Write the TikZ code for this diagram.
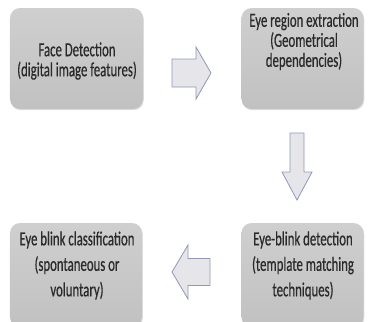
\documentclass[tikz,border=0pt]{standalone}
\usepackage{fontspec}
\setmainfont{Carlito}[FakeStretch=0.64, FakeBold=0.5]
\usetikzlibrary{shadows}
\definecolor{boxtop}{HTML}{CFCFCF}
\definecolor{boxbot}{HTML}{C1C1C1}
\definecolor{arrfill}{HTML}{E5E5EA}
\definecolor{arrline}{HTML}{8F98B6}
\definecolor{txtcol}{HTML}{2A2A2A}
\begin{document}
\begin{tikzpicture}[x=1bp,y=-1bp,
  box/.style={draw=none, rounded corners=10bp, top color=boxtop, bottom color=boxbot,
    drop shadow={opacity=0.25, shadow xshift=0.8bp, shadow yshift=-1.2bp}},
  txt/.style={align=center, text=txtcol, inner sep=0pt, font=\fontsize{20bp}{20bp}\selectfont},
  txtb/.style={txt, font=\fontsize{20bp}{25.5bp}\selectfont},
  blockarrow/.style={fill=arrfill, draw=arrline, line width=0.8bp, line join=miter}]
\useasboundingbox (0,0) rectangle (368,322);
% boxes
\node[box, minimum width=133bp, minimum height=101bp] (b1) at (76.5,58.5) {};
\node[box, minimum width=122bp, minimum height=101bp] (b2) at (302.5,58.5) {};
\node[box, minimum width=132bp, minimum height=104bp] (b3) at (76,275) {};
\node[box, minimum width=122bp, minimum height=104bp] (b4) at (302.5,275) {};
% texts
\node[txt] (t1) at (77,61) {Face Detection\\(digital image features)};
\node[txt] (t2) at (304,41.5) {Eye region extraction\\(Geometrical\\dependencies)};
\node[txtb] (t3) at (77,265.5) {Eye blink classification\\(spontaneous or\\voluntary)};
\node[txtb] (t4) at (303,265.5) {Eye-blink detection\\(template matching\\techniques)};
% block arrows
\coordinate (ar) at (172,73);
\draw[blockarrow] (ar) ++(0,-14) -- ++(24,0) -- ++(0,-12) -- ++(15,26) -- ++(-15,26) -- ++(0,-12) -- ++(-24,0) -- cycle;
\coordinate (ad) at (297,133);
\draw[blockarrow] (ad) ++(-7,0) -- ++(14,0) -- ++(0,39) -- ++(8,0) -- ++(-15,28) -- ++(-15,-28) -- ++(8,0) -- cycle;
\coordinate (al) at (210,272);
\draw[blockarrow] (al) ++(0,-13.5) -- ++(-22,0) -- ++(0,-13.5) -- ++(-16,27) -- ++(16,27) -- ++(0,-13.5) -- ++(22,0) -- cycle;
\end{tikzpicture}
\end{document}
